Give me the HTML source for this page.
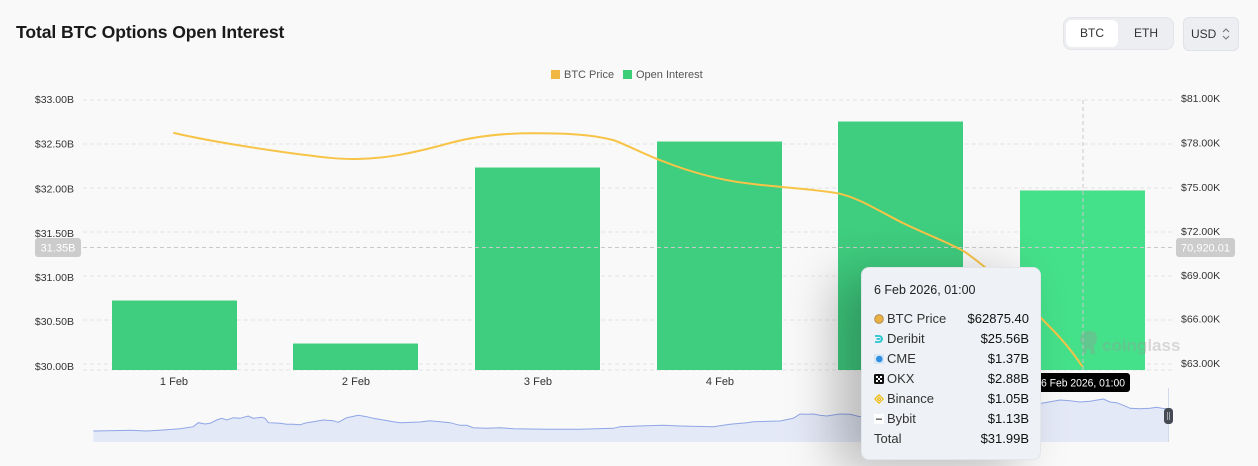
<!DOCTYPE html>
<html><head><meta charset="utf-8"><style>
*{margin:0;padding:0;box-sizing:border-box}
body{width:1258px;height:466px;background:#f9f9f9;font-family:"Liberation Sans",Arial,sans-serif;position:relative;overflow:hidden}
.title{position:absolute;left:16px;top:22px;font-size:17.6px;font-weight:bold;color:#1a1a1a;letter-spacing:-0.1px}
.seg{position:absolute;left:1063px;top:17px;width:111px;height:33px;background:#eceef1;border:1px solid #e3e5e9;border-radius:8px}
.seg .on{position:absolute;left:2px;top:2px;width:52px;height:27px;background:#fff;border-radius:6px}
.seg span{position:absolute;top:8px;font-size:12px;color:#333}
.usd{position:absolute;left:1183px;top:17px;width:56px;height:34px;background:#eceef1;border:1px solid #dfe2e6;border-radius:6px;font-size:12px;color:#333}
.usd .t{position:absolute;left:7px;top:9px}
svg{position:absolute;left:0;top:0}
.tip{position:absolute;left:861px;top:267px;width:180px;height:193px;background:#eef1f5;border:1px solid #e2e5ea;border-radius:8px;box-shadow:-25px 10px 50px rgba(0,0,0,0.26);font-size:13px;color:#333}
.tip .h{position:absolute;left:12px;top:15px;font-size:12.5px;color:#222}
.row{position:absolute;left:0;width:180px;height:20px;line-height:20px}
.row .l{position:absolute;left:25px;color:#333}
.row .v{position:absolute;right:13px;color:#111}
</style></head><body>
<div class="title">Total BTC Options Open Interest</div>
<div class="seg"><div class="on"></div><span style="left:16px">BTC</span><span style="left:70px">ETH</span></div>
<div class="usd"><span class="t">USD</span>
<svg width="10" height="14" viewBox="0 0 10 14" style="position:absolute;left:37px;top:9px"><path d="M2,5 L5,2 L8,5 M2,9 L5,12 L8,9" fill="none" stroke="#777" stroke-width="1.1"/></svg></div>

<svg width="1258" height="466" viewBox="0 0 1258 466" font-family="Liberation Sans, Arial, sans-serif">
  <!-- legend -->
  <rect x="551" y="70" width="9" height="9" fill="#f0b843"/>
  <text x="564" y="78" font-size="11" fill="#555">BTC Price</text>
  <rect x="623" y="70" width="9" height="9" fill="#3ccf77"/>
  <text x="636" y="78" font-size="11" fill="#555">Open Interest</text>

  <!-- grid -->
  <g stroke="#e4e4e4" stroke-width="1" stroke-dasharray="4,3">
    <line x1="83" y1="100" x2="1172" y2="100"/>
    <line x1="83" y1="144" x2="1172" y2="144"/>
    <line x1="83" y1="188" x2="1172" y2="188"/>
    <line x1="83" y1="232" x2="1172" y2="232"/>
    <line x1="83" y1="276" x2="1172" y2="276"/>
    <line x1="83" y1="320" x2="1172" y2="320"/>
    <line x1="83" y1="364" x2="1172" y2="364"/>
    <line x1="83" y1="370" x2="1172" y2="370"/>
  </g>

  <!-- left axis labels -->
  <g font-size="10.5" fill="#333" text-anchor="end">
    <text x="74" y="103">$33.00B</text>
    <text x="74" y="147.5">$32.50B</text>
    <text x="74" y="192.5">$32.00B</text>
    <text x="74" y="237">$31.50B</text>
    <text x="74" y="281">$31.00B</text>
    <text x="74" y="325">$30.50B</text>
    <text x="74" y="370">$30.00B</text>
  </g>
  <!-- right axis labels -->
  <g font-size="10.5" fill="#333">
    <text x="1181" y="102">$81.00K</text>
    <text x="1181" y="146.5">$78.00K</text>
    <text x="1181" y="191">$75.00K</text>
    <text x="1181" y="235">$72.00K</text>
    <text x="1181" y="279">$69.00K</text>
    <text x="1181" y="322.5">$66.00K</text>
    <text x="1181" y="367">$63.00K</text>
  </g>

  <!-- bars -->
  <g fill="#3fcd7f">
    <rect x="112" y="300" width="125" height="70"/>
    <rect x="293" y="343" width="125" height="27"/>
    <rect x="475" y="167" width="125" height="203"/>
    <rect x="657" y="141" width="125" height="229"/>
    <rect x="838" y="121" width="125" height="249"/>
  </g>
  <rect x="1020" y="190" width="125" height="180" fill="#45e08a"/>
  <g stroke="#9fe6bd" stroke-width="1">
    <line x1="112" y1="300.5" x2="237" y2="300.5"/>
    <line x1="293" y1="343.5" x2="418" y2="343.5"/>
    <line x1="475" y1="167.5" x2="600" y2="167.5"/>
    <line x1="657" y1="141.5" x2="782" y2="141.5"/>
    <line x1="838" y1="121.5" x2="963" y2="121.5"/>
    <line x1="1020" y1="190.5" x2="1145" y2="190.5"/>
  </g>

  <!-- crosshair -->
  <g stroke="#c9c9c9" stroke-width="1" stroke-dasharray="4,3">
    <line x1="83" y1="247.5" x2="1172" y2="247.5"/>
    <line x1="1083" y1="100" x2="1083" y2="370"/>
  </g>

  <!-- watermark -->
  <g opacity="0.35">
    <path d="M1080,340 q0,-8 8,-9 q9,-1 9,7 q0,5 -3,7 l1,9 l-4,0 l-1,-5 l-3,0 l-1,5 l-4,0 l1,-9 q-3,-2 -3,-5z" fill="#9a9a9a"/>
    <text x="1102" y="351" font-size="17" font-weight="bold" fill="#9a9a9a">coinglass</text>
  </g>

  <!-- price line -->
  <path fill="none" stroke="#f8c447" stroke-width="2" stroke-linejoin="round" stroke-linecap="round"
    d="M174,133 C200,139 240,146 290,153 C320,157 340,159.5 357,159 C385,158.5 410,154 450,143 C480,135 510,133 537,133.3 C565,133.5 590,134 613,140 C630,146 645,155 665,162 C690,172 720,180 747,183.3 C775,187 810,188.5 838,193.3 C860,198 880,212 905,224 C930,236 950,243 965,252 C985,266 1015,292 1040,317 C1055,332 1068,345 1082,366"/>

  <!-- y value boxes -->
  <rect x="35" y="238" width="46" height="19" rx="3" fill="#cccccc"/>
  <text x="58" y="251.5" font-size="11" fill="#fff" text-anchor="middle">31.35B</text>
  <rect x="1176" y="238" width="59" height="19" rx="3" fill="#cccccc"/>
  <text x="1205.5" y="251.5" font-size="11" fill="#fff" text-anchor="middle">70,920.01</text>

  <!-- x labels -->
  <g font-size="11" fill="#333" text-anchor="middle">
    <text x="174" y="385">1 Feb</text>
    <text x="356" y="385">2 Feb</text>
    <text x="538" y="385">3 Feb</text>
    <text x="720" y="385">4 Feb</text>
    <text x="902" y="385">5 Feb</text>
  </g>

  <!-- navigator -->
  <path fill="#e4e9f7" stroke="none" d="M93.3,431 L130,430.3 146.7,431 163.3,430 180,428.7 193.3,426.7 198.3,422.7 205,424 210,423.3 216.7,420 221.7,418.3 226.7,420 233.3,417.7 240,418.3 248.3,416 253.3,418.3 261.7,417.3 265,418.3 268.3,422.7 280,423.3 286.7,424.3 293.3,424.3 300,424.7 306.7,422.7 313.3,421.7 323.3,420 333.3,420.7 338.3,422.3 346.7,417.7 358.3,415.3 366.7,416.7 373.3,418.3 383.3,420 393.3,421.7 400,422.7 413.3,422.3 420,422 430,420.7 440,421.7 450,422.7 460,425.3 466.7,425.3 473.3,427.7 486.7,428.3 500,427.7 513.3,428.7 546.7,429.3 580,429.3 613.3,428.3 620,426.7 646.7,425.7 663.3,425.3 680,426 713.3,426.7 730,424.3 746.7,422.7 753.3,421.7 770,421.3 780,421 793.3,418.3 800,414 806.7,414.3 813.3,414 820,415.3 826.7,416 840,414 850,414.3 860,416.7 900,410 950,408 1000,405 1041.7,403.3 1060,400 1070,400.7 1080,402 1090,401.3 1103.3,399 1110,402 1116.7,402.7 1126.7,406.7 1130,408.3 1140,408.7 1150,408.3 1156.7,407.3 1161.7,408.3 1168.3,409 L1168.3,442 L93.3,442 Z"/>
  <polyline fill="none" stroke="#8fa6e6" stroke-width="1" points="93.3,431 130,430.3 146.7,431 163.3,430 180,428.7 193.3,426.7 198.3,422.7 205,424 210,423.3 216.7,420 221.7,418.3 226.7,420 233.3,417.7 240,418.3 248.3,416 253.3,418.3 261.7,417.3 265,418.3 268.3,422.7 280,423.3 286.7,424.3 293.3,424.3 300,424.7 306.7,422.7 313.3,421.7 323.3,420 333.3,420.7 338.3,422.3 346.7,417.7 358.3,415.3 366.7,416.7 373.3,418.3 383.3,420 393.3,421.7 400,422.7 413.3,422.3 420,422 430,420.7 440,421.7 450,422.7 460,425.3 466.7,425.3 473.3,427.7 486.7,428.3 500,427.7 513.3,428.7 546.7,429.3 580,429.3 613.3,428.3 620,426.7 646.7,425.7 663.3,425.3 680,426 713.3,426.7 730,424.3 746.7,422.7 753.3,421.7 770,421.3 780,421 793.3,418.3 800,414 806.7,414.3 813.3,414 820,415.3 826.7,416 840,414 850,414.3 860,416.7 900,410 950,408 1000,405 1041.7,403.3 1060,400 1070,400.7 1080,402 1090,401.3 1103.3,399 1110,402 1116.7,402.7 1126.7,406.7 1130,408.3 1140,408.7 1150,408.3 1156.7,407.3 1161.7,408.3 1168.3,409"/>
  <line x1="1168.5" y1="388" x2="1168.5" y2="442" stroke="#d3d8e6" stroke-width="1"/>
  <rect x="1164" y="408" width="9" height="16" rx="3.5" fill="#454b55"/>
  <line x1="1167.5" y1="412" x2="1167.5" y2="420" stroke="#bbb" stroke-width="0.8"/>
  <line x1="1169.5" y1="412" x2="1169.5" y2="420" stroke="#bbb" stroke-width="0.8"/>

  <!-- time label -->
  <rect x="1034" y="373" width="96" height="19" rx="3" fill="#000"/>
  <text x="1041" y="386.5" font-size="11.2" fill="#fff" textLength="84" lengthAdjust="spacingAndGlyphs">6 Feb 2026, 01:00</text>
</svg>

<div class="tip">
  <div class="h">6 Feb 2026, 01:00</div>
  <div class="row" style="top:41px">
    <svg width="10" height="10" viewBox="0 0 10 10" style="position:absolute;left:12px;top:5px"><circle cx="5" cy="5" r="4.3" fill="#e9b045" stroke="#a9823a" stroke-width="0.8"/></svg>
    <span class="l">BTC Price</span><span class="v">$62875.40</span></div>
  <div class="row" style="top:61px">
    <svg width="10" height="10" viewBox="0 0 10 10" style="position:absolute;left:12px;top:5px"><path d="M1,2 h4 a3,3 0 0 1 0,6 h-4 M2.5,5 h4" fill="none" stroke="#25c4cf" stroke-width="1.8"/></svg>
    <span class="l">Deribit</span><span class="v">$25.56B</span></div>
  <div class="row" style="top:81px">
    <svg width="10" height="10" viewBox="0 0 10 10" style="position:absolute;left:12px;top:5px"><rect x="0" y="0" width="10" height="10" fill="#d6e6f5"/><circle cx="5.3" cy="5" r="3.3" fill="#2f8fe0"/></svg>
    <span class="l">CME</span><span class="v">$1.37B</span></div>
  <div class="row" style="top:101px">
    <svg width="10" height="10" viewBox="0 0 10 10" style="position:absolute;left:12px;top:5px"><rect x="0" y="0" width="10" height="10" rx="1.5" fill="#111"/><rect x="2" y="2" width="2" height="2" fill="#fff"/><rect x="6" y="2" width="2" height="2" fill="#fff"/><rect x="4" y="4" width="2" height="2" fill="#fff"/><rect x="2" y="6" width="2" height="2" fill="#fff"/><rect x="6" y="6" width="2" height="2" fill="#fff"/></svg>
    <span class="l">OKX</span><span class="v">$2.88B</span></div>
  <div class="row" style="top:121px">
    <svg width="10" height="10" viewBox="0 0 10 10" style="position:absolute;left:12px;top:5px"><path d="M5,0.8 L9.2,5 L5,9.2 L0.8,5 Z M5,3.3 L6.7,5 L5,6.7 L3.3,5 Z" fill="none" stroke="#f0b90b" stroke-width="1.1"/></svg>
    <span class="l">Binance</span><span class="v">$1.05B</span></div>
  <div class="row" style="top:141px">
    <svg width="10" height="10" viewBox="0 0 10 10" style="position:absolute;left:12px;top:5px"><rect x="0" y="0" width="10" height="10" fill="#fff"/><rect x="2" y="4.5" width="6" height="1.3" fill="#555"/></svg>
    <span class="l">Bybit</span><span class="v">$1.13B</span></div>
  <div class="row" style="top:161px"><span class="l" style="left:12px">Total</span><span class="v">$31.99B</span></div>
</div>
</body></html>
